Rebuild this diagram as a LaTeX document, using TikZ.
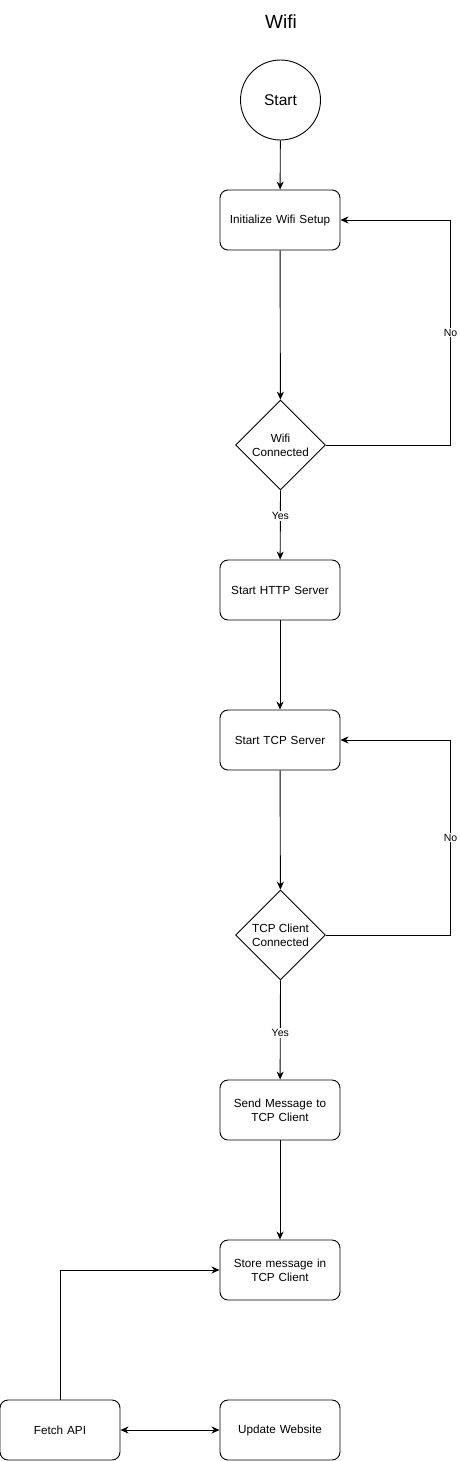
\documentclass[tikz,border=0pt]{standalone}
\usepackage{fontspec}
\setmainfont{Liberation Sans}
\usetikzlibrary{shapes.geometric,arrows.meta}
\begin{document}
\begin{tikzpicture}[x=1pt,y=-1pt,
  box/.style={draw,line width=0.9pt,rounded corners=8pt,minimum width=120pt,minimum height=60pt,align=center,font=\fontsize{11.7}{14}\selectfont,inner sep=2pt,text width=112pt},
  dec/.style={draw,line width=0.9pt,diamond,minimum width=90pt,minimum height=90pt,inner sep=0pt,align=center,font=\fontsize{11.7}{14}\selectfont},
  conn/.style={line width=0.9pt,-{Stealth[length=8pt,width=7pt,inset=2.5pt]}},
  lbl/.style={fill=white,font=\fontsize{10.5}{12}\selectfont,inner sep=1pt}]
\useasboundingbox (0,0) rectangle (460,1461);
\node[font=\fontsize{19}{22}\selectfont] (title) at (281,22) {Wifi};
\node[draw,line width=0.9pt,circle,minimum size=80pt,font=\fontsize{15.5}{18}\selectfont] (start) at (280.5,100) {Start};
\node[box] (init) at (280,220) {Initialize Wifi Setup};
\node[dec] (wc) at (280.5,445) {Wifi\\Connected};
\node[box] (http) at (280,590) {Start HTTP Server};
\node[box] (tcp) at (280,740) {Start TCP Server};
\node[dec] (tc) at (280.5,935) {TCP Client\\Connected};
\node[box] (send) at (280,1110) {Send Message to\\TCP Client};
\node[box] (store) at (280,1270) {Store message in\\TCP Client};
\node[box] (fetch) at (60,1430) {Fetch API};
\node[box] (upd) at (280,1430) {Update Website};
\coordinate (l1) at (450.5,445);
\coordinate (l2) at (450.5,220);
\coordinate (l3) at (450.5,935);
\coordinate (l4) at (450.5,740);
\coordinate (f1) at (60,1270);
\draw[conn] (start) -- (init);
\draw[conn] (init) -- (wc);
\draw[conn] (wc.south) -- node[lbl,pos=0.37]{Yes} (http);
\draw[conn] (wc.east) -- (l1) -- node[lbl]{No} (l2) -- (init.east);
\draw[conn] (http) -- (tcp);
\draw[conn] (tcp) -- (tc);
\draw[conn] (tc.south) -- node[lbl,pos=0.53]{Yes} (send);
\draw[conn] (tc.east) -- (l3) -- node[lbl]{No} (l4) -- (tcp.east);
\draw[conn] (send) -- (store);
\draw[conn] (fetch.north) -- (f1) -- (store.west);
\draw[line width=0.9pt,{Stealth[length=8pt,width=7pt,inset=2.5pt]}-{Stealth[length=8pt,width=7pt,inset=2.5pt]}] (fetch) -- (upd);
\end{tikzpicture}
\end{document}
